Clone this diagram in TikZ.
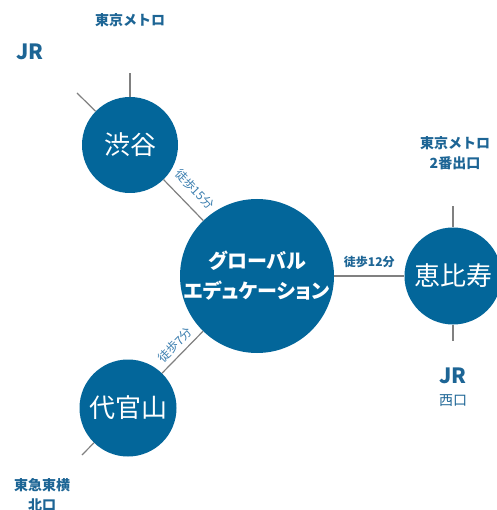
\documentclass[tikz,border=0pt]{standalone}
\usepackage{fontspec}
\setmainfont{Noto Sans CJK JP}
\newfontfamily\paltjp{Noto Sans CJK JP}[RawFeature=+palt]
\definecolor{stblue}{HTML}{03669A}
\definecolor{exitblue}{HTML}{1D6595}
\definecolor{walkblue}{HTML}{3A7DAE}

\begin{document}
\begin{tikzpicture}[x=1pt,y=-1pt,
    station/.style={circle, fill=stblue, text=white, inner sep=0pt,
      font=\fontsize{26}{28}\selectfont},
    link/.style={draw=gray, line width=1.2pt},
    exit/.style={text=exitblue, align=center,
      font=\bfseries\fontsize{14}{20}\selectfont},
    walk/.style={text=walkblue, sloped, font=\fontsize{12}{12}\selectfont}]

      \useasboundingbox (0,0) rectangle (496,510);

      % stations
      \node[station, minimum size=96pt] (shibuya) at (130,145) {渋谷};
      \node[station, minimum size=154pt, align=center,
        font=\paltjp\bfseries\fontsize{20}{30}\selectfont] (ge) at (257,276)
        {グローバル\\エデュケーション};
      \node[station, minimum size=97pt] (ebisu) at (453,276) {恵比寿};
      \node[station, minimum size=97pt] (daikan) at (128,408) {代官山};

      % exits
      \coordinate (shibuyaN) at (130,73);
      \coordinate (shibuyaW) at (77,93);
      \coordinate (ebisuN)   at (453,206);
      \coordinate (ebisuS)   at (453,341);
      \coordinate (daikanS)  at (82,455);

      \draw[link] (shibuya) -- (shibuyaN);
      \draw[link] (shibuya) -- (shibuyaW);
      \draw[link] (ebisu) -- (ebisuN);
      \draw[link] (ebisu) -- (ebisuS);
      \draw[link] (daikan) -- (daikanS);

      % walking routes
      \draw[link] (shibuya) -- node[walk, above=6pt] {徒歩15分} (ge);
      \draw[link] (daikan) -- node[walk, above=1pt] {徒歩7分} (ge);
      \draw[link] (ge) -- node[above=4pt, text=exitblue,
        font=\bfseries\fontsize{12}{12}\selectfont] {徒歩12分} (ebisu);

      \node[exit] (metroA) at (130,20) {東京メトロ};
      \node[exit, font=\bfseries\fontsize{21}{21}\selectfont] (jrA) at (30,52) {JR};
      \node[exit] (metroB) at (455,153) {東京メトロ\\2番出口};
      \node[exit, font=\bfseries\fontsize{21}{21}\selectfont] (jrB) at (453,376) {JR};
      \node[exit, font=\fontsize{14}{14}\selectfont] (westB) at (453,401) {西口};
      \node[exit] (tokyu) at (42,495) {東急東横\\北口};
    \end{tikzpicture}
\end{document}
